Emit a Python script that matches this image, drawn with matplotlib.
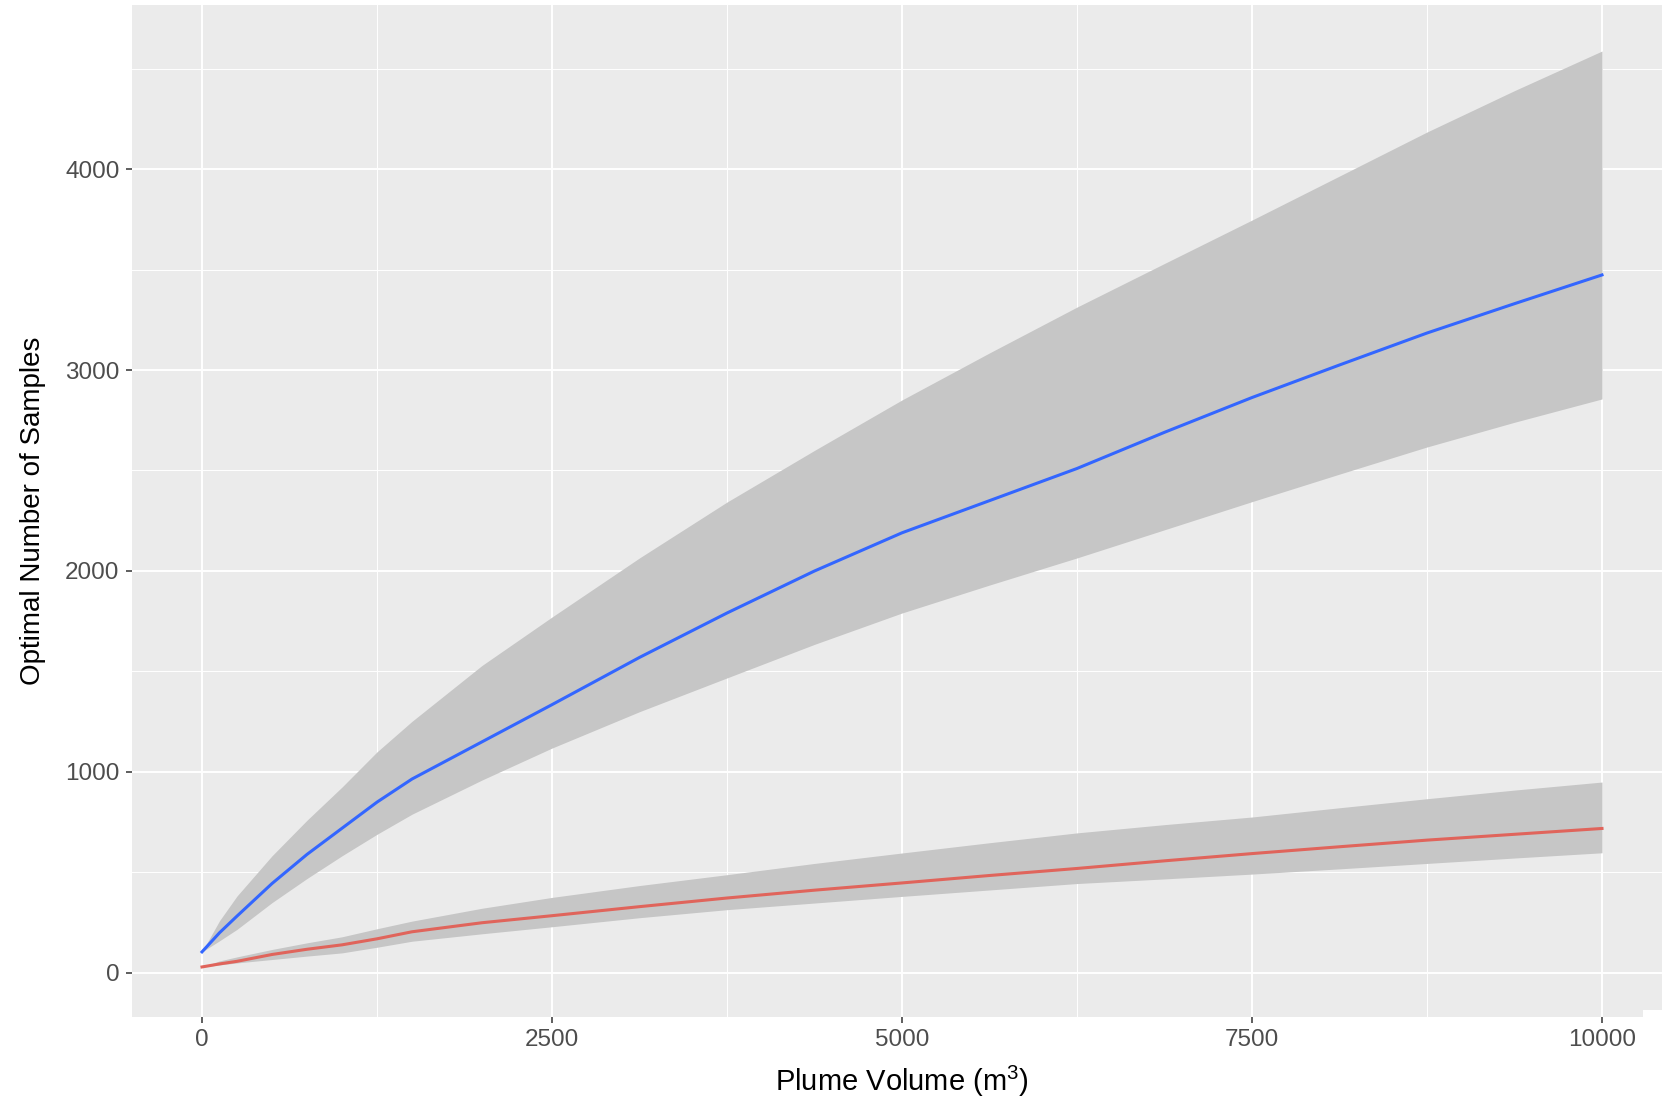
import matplotlib
matplotlib.use("Agg")
import matplotlib.pyplot as plt
from matplotlib.patches import Rectangle

# ---- data ----
volume = [0, 125, 250, 500, 750, 1000, 1250, 1500, 2000, 2500, 3125, 3750,
          4375, 5000, 5625, 6250, 6875, 7500, 8125, 8750, 9375, 10000]

blue_mean  = [105, 200, 283, 445, 590, 720, 850, 965, 1150, 1335, 1570, 1791,
              2000, 2190, 2350, 2510, 2690, 2863, 3025, 3184, 3330, 3473]
blue_upper = [105, 260, 383, 583, 760, 925, 1100, 1252, 1530, 1771, 2065, 2343,
              2600, 2851, 3085, 3313, 3530, 3746, 3965, 4184, 4390, 4587]
blue_lower = [105, 160, 217, 350, 470, 583, 690, 790, 960, 1119, 1300, 1468,
              1635, 1791, 1930, 2065, 2205, 2345, 2482, 2617, 2740, 2856]

red_mean  = [30, 45, 58, 92, 118, 140, 170, 205, 250, 285, 330, 373,
             412, 448, 485, 520, 558, 594, 628, 661, 690, 719]
red_upper = [30, 60, 80, 117, 150, 180, 220, 258, 322, 376, 435, 489,
             545, 597, 648, 697, 738, 776, 822, 867, 910, 950]
red_lower = [30, 40, 50, 67, 84, 100, 128, 158, 195, 230, 275, 315,
             348, 381, 413, 445, 468, 492, 518, 545, 572, 598]

x_ticks = [0, 2500, 5000, 7500, 10000]
x_minor = [1250, 3750, 6250, 8750]
y_ticks = [0, 1000, 2000, 3000, 4000]
y_minor = [500, 1500, 2500, 3500, 4500]

x_label = "Plume Volume (m$^3$)"
y_label = "Optimal Number of Samples"

plt.rcParams['font.family'] = ['Liberation Sans', 'DejaVu Sans']
plt.rcParams['mathtext.fontset'] = 'custom'
plt.rcParams['mathtext.rm'] = 'Liberation Sans'
plt.rcParams['mathtext.it'] = 'Liberation Sans'

W, H = 1662, 1107
fig = plt.figure(figsize=(W / 100, H / 100), dpi=100)
fig.patch.set_facecolor("white")

left_px, right_px, top_px, bottom_px = 132, 1672, 5, 1017
ax = fig.add_axes([left_px / W, 1 - bottom_px / H,
                   (right_px - left_px) / W, (bottom_px - top_px) / H])
ax.set_facecolor("#EBEBEB")
for s in ax.spines.values():
    s.set_visible(False)

ax.set_xlim(-500, 10500)
ax.set_ylim(-219, 4816)

ax.set_xticks(x_ticks)
ax.set_xticks(x_minor, minor=True)
ax.set_yticks(y_ticks)
ax.set_yticks(y_minor, minor=True)
ax.set_xticklabels([str(v) for v in x_ticks])
ax.set_yticklabels([str(v) for v in y_ticks])

ax.grid(which="major", color="white", linewidth=1.4)
ax.grid(which="minor", color="white", linewidth=0.7)
ax.set_axisbelow(True)

ax.tick_params(which="major", length=4, width=1.1, color="#333333",
               labelsize=17.5, labelcolor="#4D4D4D", pad=5)
ax.tick_params(which="minor", length=0)

ax.fill_between(volume, blue_lower, blue_upper, color="#C6C6C6", linewidth=0, zorder=2)
ax.fill_between(volume, red_lower, red_upper, color="#C6C6C6", linewidth=0, zorder=2)
ax.plot(volume, blue_mean, color="#3366FF", linewidth=2.2, zorder=3)
ax.plot(volume, red_mean, color="#E0645B", linewidth=2.2, zorder=3)

ax.set_xlabel(x_label, fontsize=21, color="black", labelpad=9)
ax.set_ylabel(y_label, fontsize=20, color="black", labelpad=14)

# small white patch at the bottom-right corner of the reference
fig.patches.append(Rectangle((1643 / W, 0), (W - 1643) / W, (H - 1010) / H,
                             transform=fig.transFigure, facecolor="white",
                             edgecolor="none", zorder=5))

fig.savefig("out.png", dpi=100, facecolor="white")
